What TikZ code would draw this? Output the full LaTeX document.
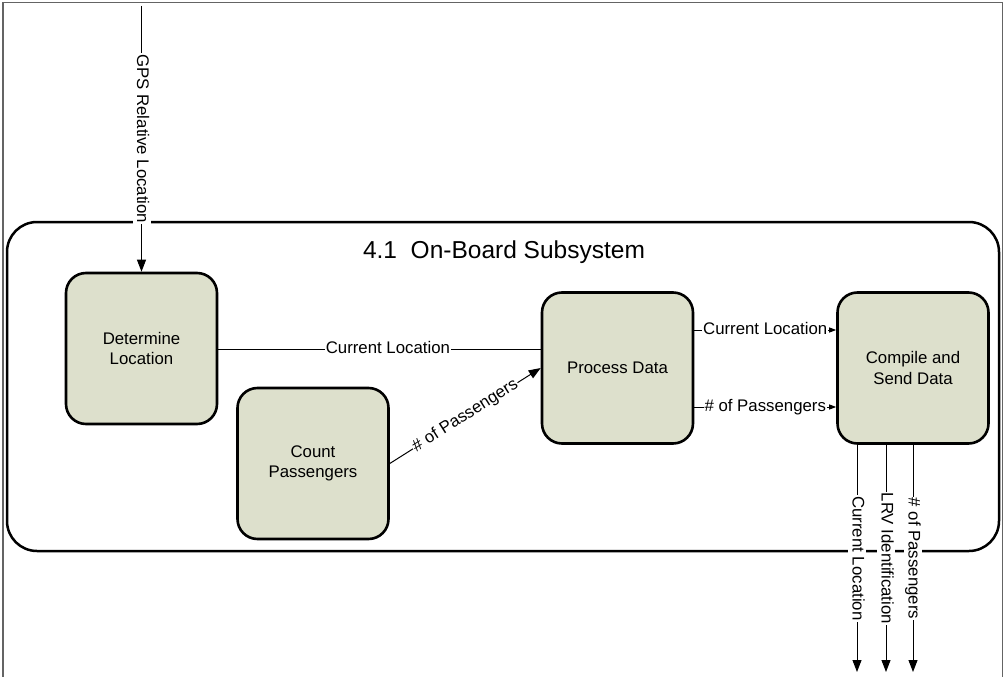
\documentclass[tikz,border=0pt]{standalone}
\usepackage{fontspec}
\setmainfont{Liberation Sans}
\usetikzlibrary{arrows.meta}
\definecolor{boxfill}{RGB}{221,224,204}
\definecolor{framegray}{RGB}{100,100,100}
\begin{document}
\begin{tikzpicture}[x=1pt,y=-1pt,
  txt/.style={font=\fontsize{16.8}{20.5}\selectfont},
  proc/.style={txt, draw=black, line width=2.6pt, fill=boxfill, rounded corners=20pt, minimum width=151pt, minimum height=151pt, align=center, inner sep=0pt},
  flow/.style={draw=black, line width=1pt},
  bigtip/.style={-{Triangle[length=12pt,width=9pt]}},
  smalltip/.style={-{Triangle[length=7pt,width=5pt]}},
  lbl/.style={txt, fill=white, inner sep=1pt, text height=12.5pt, text depth=3.5pt},
]
\useasboundingbox (0,0) rectangle (1005,677);
\draw[framegray, line width=1.5pt] (3,690) -- (3,2.5) -- (1002.5,2.5) -- (1002.5,690);

\node[draw=black, line width=2.5pt, rounded corners=30pt, minimum width=992pt, minimum height=329pt, inner sep=0pt] (sys) at (503,386.5) {};
\node[font=\fontsize{24.5}{28}\selectfont, anchor=base] (title) at (504,258) {4.1\ \ On-Board Subsystem};

\node[proc] (det) at (141.5,348.5) {Determine\\Location};
\node[proc] (cnt) at (313,463.5) {Count\\Passengers};
\node[proc] (prc) at (617.5,368) {Process Data};
\node[proc] (cmp) at (913,368) {Compile and\\Send Data};

\coordinate (gpsin) at (141.5,6);
\draw[flow,bigtip] (gpsin) -- (det.north) node[lbl, pos=0.5, rotate=-90] {GPS Relative Location};

\coordinate (cl) at (388,349);
\draw[flow] (det.east |- cl) -- (prc.west |- cl) node[lbl, pos=0.526] {Current Location};

\draw[flow,bigtip] (cnt.east) -- (prc.west) node[lbl, pos=0.5, sloped] {\# of Passengers};

\coordinate (pa) at (765,330);
\coordinate (pb) at (765,407);
\draw[flow,smalltip] (prc.east |- pa) -- (cmp.west |- pa) node[lbl, pos=0.5] {Current Location};
\draw[flow,smalltip] (prc.east |- pb) -- (cmp.west |- pb) node[lbl, pos=0.5] {\# of Passengers};

\coordinate (o1) at (857,672);
\coordinate (o2) at (886,672);
\coordinate (o3) at (913,672);
\draw[flow,bigtip] (cmp.south -| o1) -- (o1) node[lbl, pos=0.5, rotate=-90] {Current Location};
\draw[flow,bigtip] (cmp.south -| o2) -- (o2) node[lbl, pos=0.5, rotate=-90] {LRV Identification};
\draw[flow,bigtip] (cmp.south -| o3) -- (o3) node[lbl, pos=0.5, rotate=-90] {\# of Passengers};
\end{tikzpicture}
\end{document}
